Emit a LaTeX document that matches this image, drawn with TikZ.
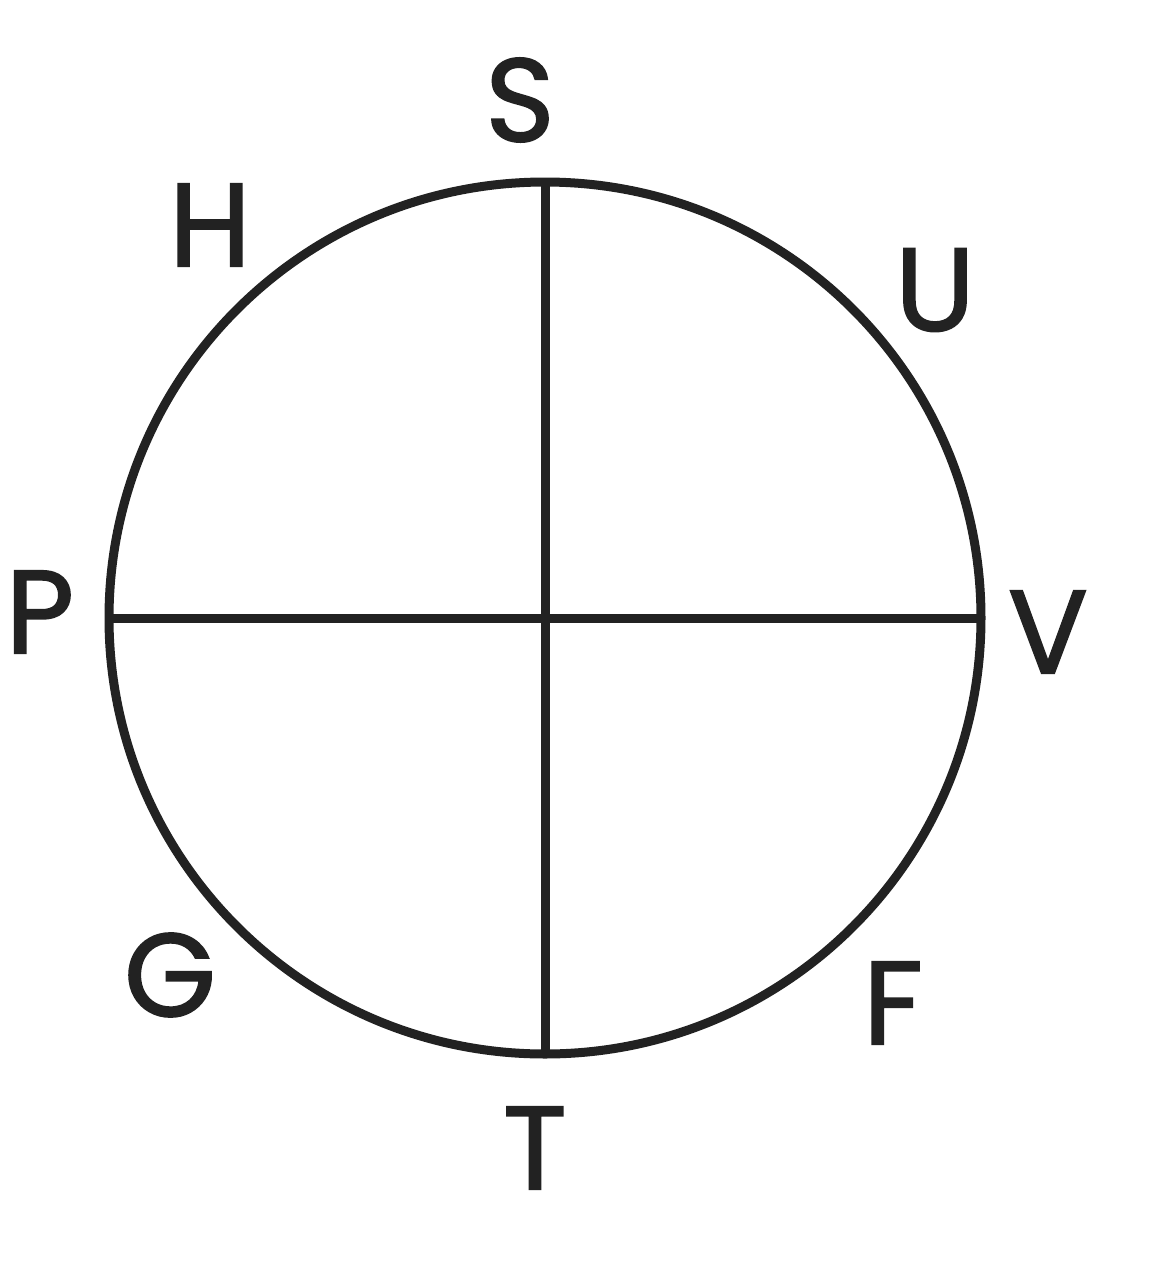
\documentclass[tikz,border=0pt]{standalone}
\usepackage{fontspec}
\setmainfont{Poppins}
\newfontfamily\lblfont{Poppins}[FakeBold=1.6]
\definecolor{ink}{HTML}{222222}
\begin{document}
\begin{tikzpicture}[x=1pt,y=-1pt,
  lbl/.style={text=ink,font=\lblfont\fontsize{118}{118}\selectfont,inner sep=0pt},
  ln/.style={draw=ink,line width=9pt}]
\useasboundingbox (0,0) rectangle (1175,1280);
\fill[white] (0,0) rectangle (1175,1280);
\node[ln,circle,minimum size=872pt,inner sep=0pt,outer sep=0pt] (c) at (545,618) {};
\draw[ln] (c.north) -- (c.south);
\draw[ln] (c.west) -- (c.east);
\node[lbl] (S) at (520,100) {S};
\node[lbl] (H) at (210,225) {H};
\node[lbl] (U) at (935,290) {U};
\node[lbl] (P) at (40,612) {P};
\node[lbl] (V) at (1048,632) {V};
\node[lbl] (G) at (170,975) {G};
\node[lbl] (F) at (893,1003) {F};
\node[lbl] (T) at (535,1148) {T};
\end{tikzpicture}
\end{document}
